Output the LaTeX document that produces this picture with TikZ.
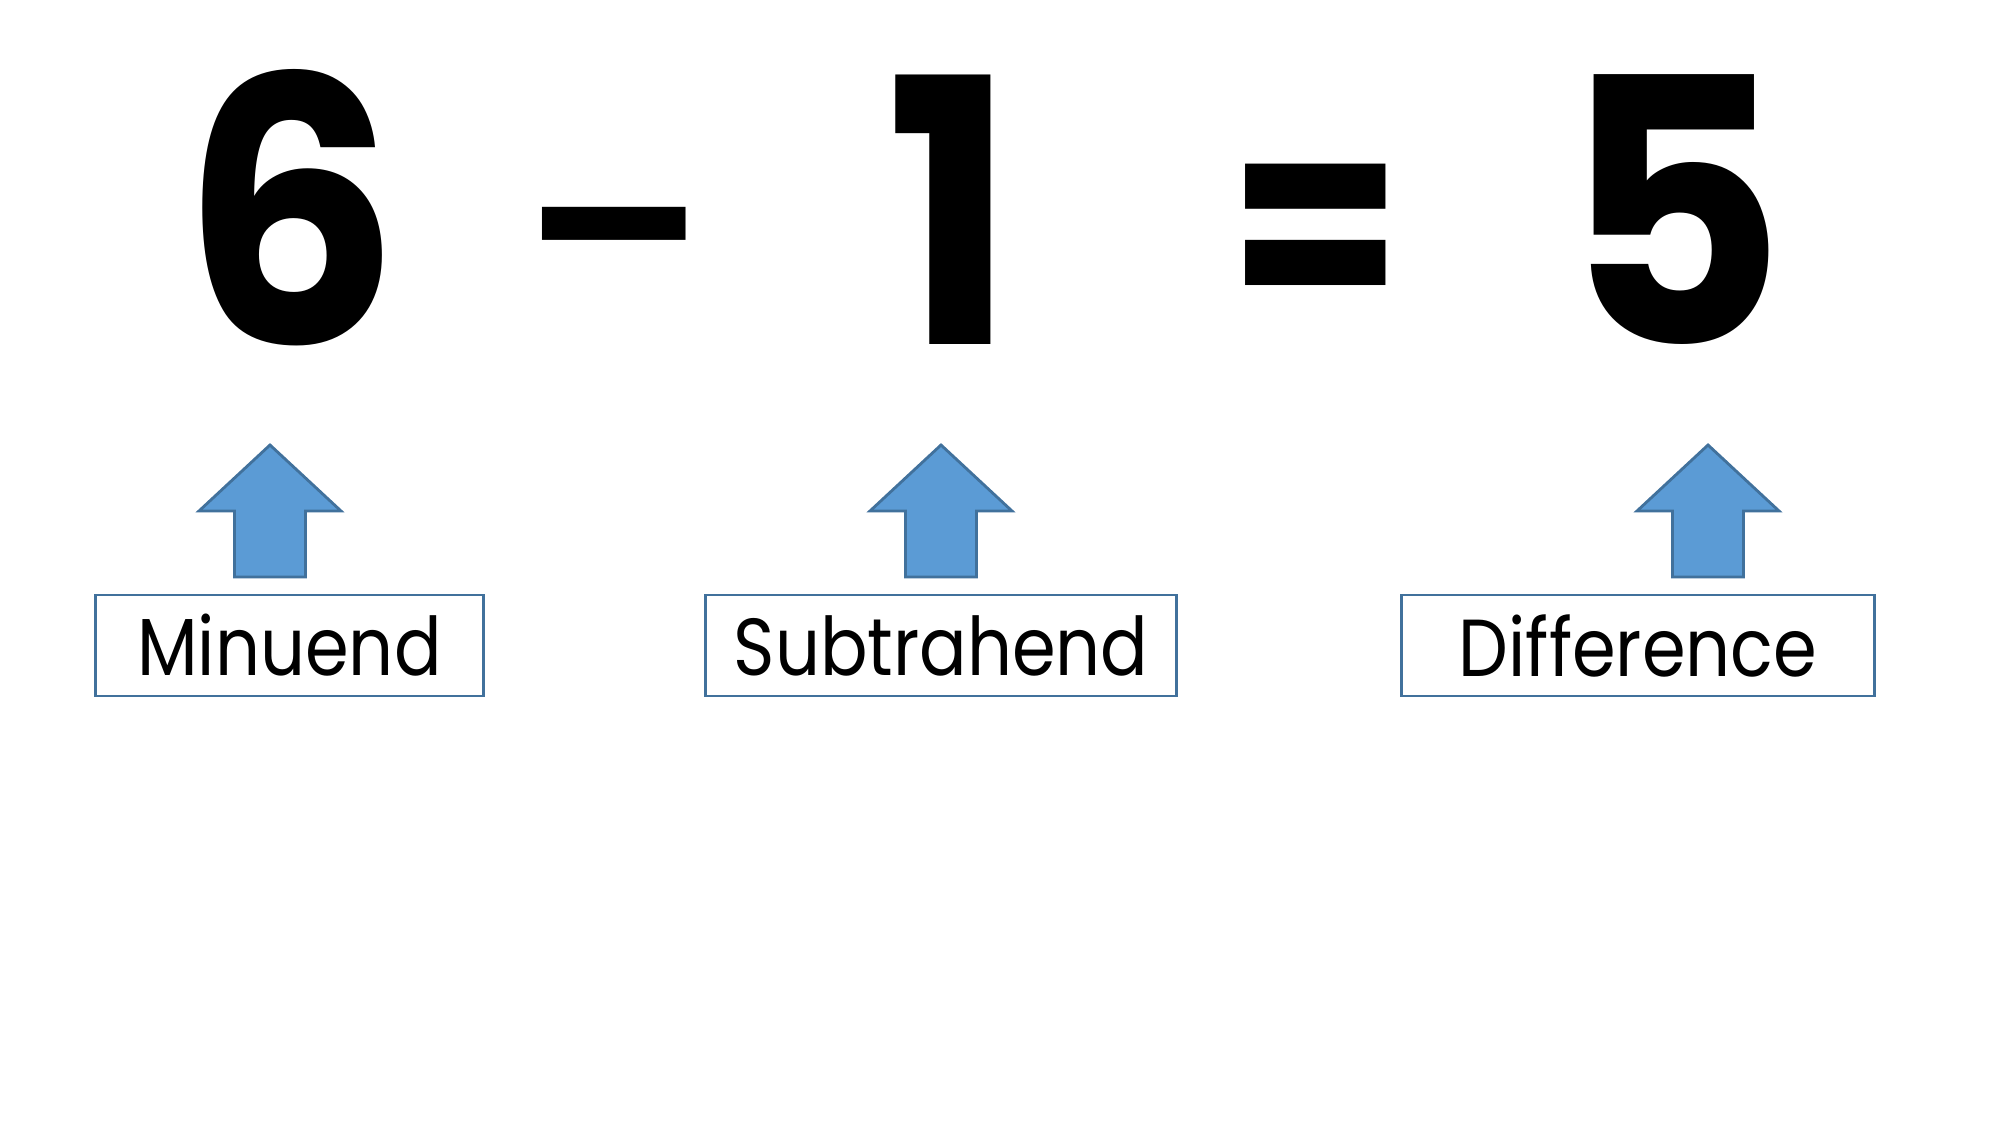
\documentclass[tikz,border=0pt]{standalone}
\usepackage{fontspec}
\setmainfont{Poppins}
\newfontfamily\digitfont[FakeStretch=0.93]{Poppins}
\newfontfamily\termfont[FakeStretch=0.87]{Poppins}
\definecolor{arrowfill}{HTML}{5B9BD5}
\definecolor{arrowline}{HTML}{41719C}
\begin{document}
\begin{tikzpicture}[x=0.01cm,y=-0.01cm,
  digit/.style={font=\digitfont\fontsize{105}{105}\selectfont\bfseries, inner sep=0pt, anchor=base},
  termbox/.style={draw=arrowline, line width=0.8pt, minimum height=1.01cm, inner sep=0pt,
    font=\termfont\fontsize{23}{23}\selectfont},
  upArrow/.style={fill=arrowfill, draw=arrowline, line width=0.8pt, line join=miter},
  uparr/.pic={\path[upArrow] (0,0) -- (71,66) -- (35.5,66) -- (35.5,132) -- (-35.5,132) -- (-35.5,66) -- (-71,66) -- cycle;}
]
\useasboundingbox (0,0) rectangle (2000,1125);
\fill[white] (0,0) rectangle (2000,1125);
% equation
\node[digit] (six) at (291,345) {6};
\node[digit] (minus) at (620,345) {\raisebox{11.2pt}{\scalebox{0.95}[0.63]{-}}};
\node[digit] (one) at (951,345) {1};
\node[digit] (eq) at (1316,345) {\raisebox{4.3pt}{\scalebox{0.73}[0.81]{=}}};
\node[digit] (five) at (1674,345) {5};
% arrows
\pic (a1) at (270,445) {uparr};
\pic (a2) at (941,445) {uparr};
\pic (a3) at (1708,445) {uparr};
% labels
\node[termbox, minimum width=3.87cm] (minuend) at (289.5,645.5) {Minuend};
\node[termbox, minimum width=4.70cm] (subtrahend) at (941,645.5) {Subtrahend};
\node[termbox, minimum width=4.72cm] (difference) at (1638,645.5) {Difference};
\end{tikzpicture}
\end{document}
